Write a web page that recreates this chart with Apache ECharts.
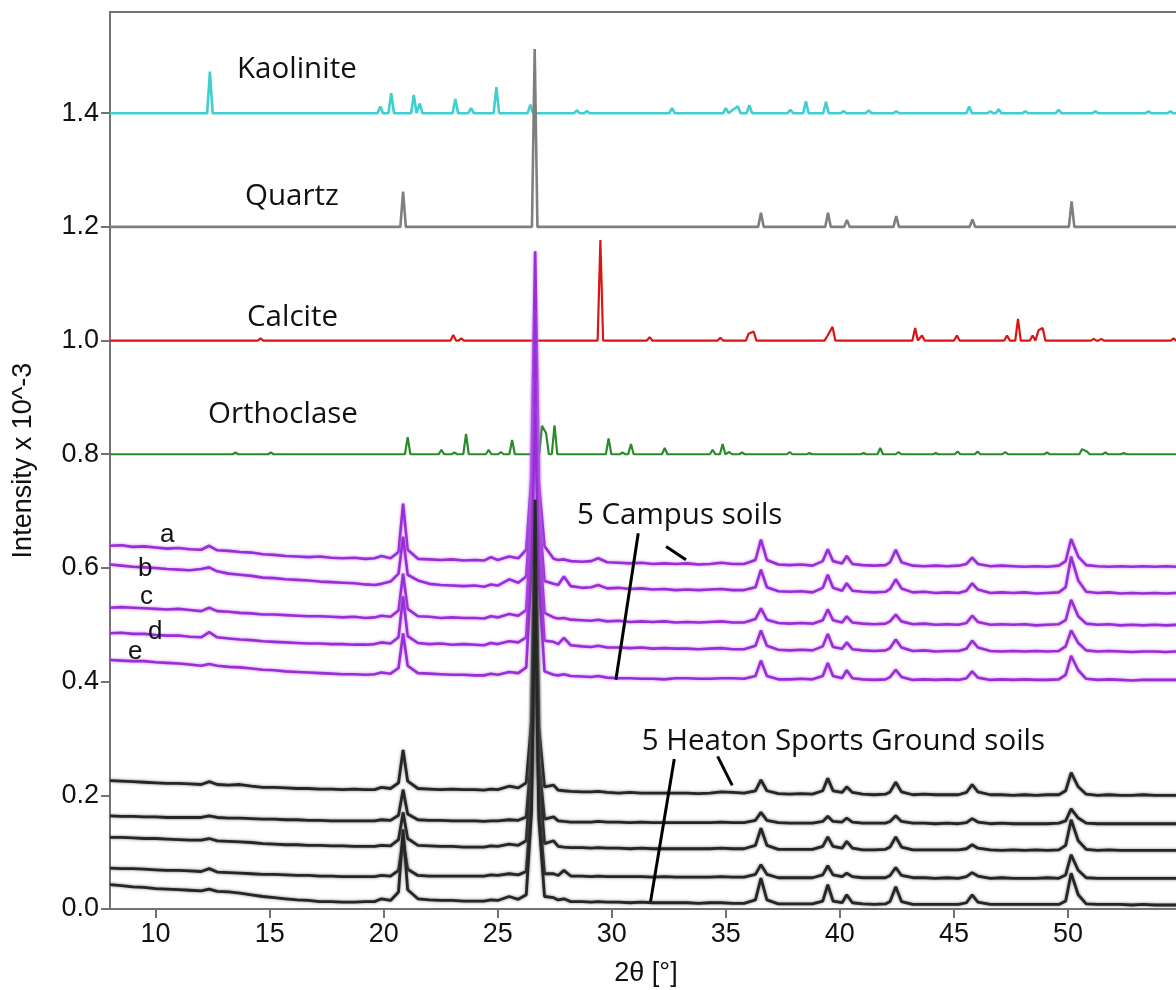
<!DOCTYPE html>
<html>
<head>
<meta charset="utf-8">
<script src="https://cdn.jsdelivr.net/npm/echarts@6/dist/echarts.min.js"></script>
<style>
  html, body { margin: 0; padding: 0; background: #ffffff; }
  #chart { width: 1176px; height: 990px; }
</style>
</head>
<body>
<div id="chart"></div>
<script>
// ---------- data ----------
const X_MIN = 8, X_MAX = 55, Y_MAX = 1.578;
const xTicks = [10, 15, 20, 25, 30, 35, 40, 45, 50];
const yTicks = [0, 0.2, 0.4, 0.6, 0.8, 1.0, 1.2, 1.4];

// 2θ sampling shared by the measured soil patterns
const twoTheta = [
  8.0, 8.5, 9.0, 9.5, 10.0, 10.5, 11.0, 11.5, 12.0, 12.35,
  12.7, 13.2, 13.7, 14.2, 14.7, 15.2, 15.7, 16.2, 16.7, 17.2,
  17.7, 18.2, 18.7, 19.2, 19.6, 19.9, 20.3, 20.65, 20.85, 21.05,
  21.5, 22.0, 22.5, 23.0, 23.5, 24.0, 24.4, 24.7, 25.0, 25.5,
  25.9, 26.25, 26.48, 26.64, 26.8, 27.05, 27.45, 27.65, 27.9, 28.2,
  28.7, 29.1, 29.4, 29.8, 30.3, 30.8, 31.3, 31.8, 32.3, 32.8,
  33.3, 33.8, 34.3, 34.8, 35.3, 35.8, 36.3, 36.54, 36.8, 37.3,
  37.8, 38.3, 38.8, 39.25, 39.47, 39.7, 40.1, 40.3, 40.55, 41.0,
  41.5, 42.0, 42.2, 42.45, 42.7, 43.2, 43.7, 44.2, 44.7, 45.2,
  45.55, 45.8, 46.05, 46.6, 47.1, 47.6, 48.1, 48.6, 49.1, 49.6,
  49.9, 50.14, 50.45, 50.8, 51.3, 51.8, 52.3, 52.8, 53.3, 53.8,
  54.3, 54.8, 55.0
];

// Campus soils a–e
const campusA = [
  0.639, 0.640, 0.637, 0.638, 0.636, 0.634, 0.635, 0.633, 0.632, 0.639,
  0.631, 0.630, 0.628, 0.627, 0.624, 0.623, 0.621, 0.620, 0.619, 0.620,
  0.618, 0.617, 0.618, 0.616, 0.617, 0.621, 0.617, 0.628, 0.713, 0.632,
  0.616, 0.615, 0.614, 0.615, 0.613, 0.614, 0.613, 0.619, 0.614, 0.620,
  0.617, 0.632, 0.760, 1.157, 0.750, 0.638, 0.616, 0.614, 0.615, 0.612,
  0.611, 0.612, 0.617, 0.610, 0.609, 0.608, 0.609, 0.607, 0.608, 0.607,
  0.608, 0.606, 0.607, 0.609, 0.607, 0.607, 0.614, 0.650, 0.614, 0.606,
  0.605, 0.606, 0.604, 0.612, 0.633, 0.612, 0.608, 0.621, 0.607, 0.605,
  0.604, 0.605, 0.610, 0.632, 0.610, 0.604, 0.603, 0.604, 0.603, 0.604,
  0.607, 0.618, 0.607, 0.603, 0.604, 0.603, 0.602, 0.603, 0.602, 0.604,
  0.612, 0.651, 0.620, 0.605, 0.603, 0.602, 0.603, 0.602, 0.603, 0.602,
  0.603, 0.602, 0.602
];
const campusB = [
  0.606, 0.604, 0.602, 0.601, 0.600, 0.598, 0.597, 0.596, 0.598, 0.601,
  0.594, 0.590, 0.588, 0.586, 0.583, 0.582, 0.580, 0.579, 0.578, 0.576,
  0.575, 0.574, 0.573, 0.571, 0.570, 0.572, 0.576, 0.590, 0.655, 0.588,
  0.578, 0.572, 0.570, 0.569, 0.568, 0.569, 0.567, 0.571, 0.569, 0.580,
  0.574, 0.585, 0.720, 1.050, 0.700, 0.577, 0.572, 0.570, 0.585, 0.568,
  0.565, 0.566, 0.570, 0.564, 0.565, 0.563, 0.564, 0.562, 0.563, 0.561,
  0.562, 0.561, 0.562, 0.563, 0.561, 0.561, 0.566, 0.597, 0.566, 0.559,
  0.558, 0.559, 0.557, 0.565, 0.588, 0.565, 0.560, 0.573, 0.560, 0.558,
  0.557, 0.558, 0.563, 0.580, 0.564, 0.557, 0.558, 0.556, 0.557, 0.556,
  0.560, 0.573, 0.562, 0.556, 0.557, 0.556, 0.557, 0.555, 0.556, 0.557,
  0.566, 0.620, 0.578, 0.558, 0.556, 0.557, 0.555, 0.556, 0.555, 0.556,
  0.555, 0.556, 0.556
];
const campusC = [
  0.530, 0.531, 0.530, 0.529, 0.528, 0.527, 0.528, 0.526, 0.524, 0.530,
  0.524, 0.523, 0.521, 0.520, 0.518, 0.518, 0.517, 0.516, 0.515, 0.515,
  0.514, 0.513, 0.514, 0.512, 0.513, 0.516, 0.514, 0.525, 0.590, 0.528,
  0.515, 0.514, 0.512, 0.513, 0.512, 0.512, 0.511, 0.515, 0.513, 0.519,
  0.516, 0.526, 0.680, 0.990, 0.660, 0.521, 0.513, 0.511, 0.512, 0.509,
  0.508, 0.507, 0.509, 0.506, 0.507, 0.505, 0.506, 0.505, 0.506, 0.504,
  0.505, 0.504, 0.505, 0.506, 0.504, 0.504, 0.510, 0.529, 0.509, 0.503,
  0.502, 0.503, 0.502, 0.508, 0.527, 0.508, 0.504, 0.515, 0.504, 0.502,
  0.501, 0.502, 0.506, 0.518, 0.506, 0.501, 0.502, 0.500, 0.501, 0.500,
  0.503, 0.516, 0.505, 0.500, 0.501, 0.500, 0.501, 0.499, 0.500, 0.501,
  0.508, 0.544, 0.515, 0.502, 0.500, 0.501, 0.499, 0.500, 0.499, 0.500,
  0.499, 0.500, 0.500
];
const campusD = [
  0.485, 0.486, 0.484, 0.484, 0.482, 0.481, 0.481, 0.479, 0.478, 0.487,
  0.478, 0.476, 0.474, 0.473, 0.471, 0.470, 0.469, 0.468, 0.467, 0.467,
  0.466, 0.466, 0.465, 0.465, 0.466, 0.469, 0.467, 0.478, 0.550, 0.480,
  0.468, 0.466, 0.467, 0.465, 0.466, 0.465, 0.464, 0.468, 0.466, 0.471,
  0.469, 0.478, 0.640, 0.930, 0.620, 0.472, 0.470, 0.466, 0.477, 0.464,
  0.462, 0.461, 0.463, 0.460, 0.460, 0.459, 0.460, 0.458, 0.459, 0.458,
  0.458, 0.457, 0.458, 0.459, 0.457, 0.457, 0.463, 0.490, 0.463, 0.456,
  0.455, 0.456, 0.455, 0.462, 0.484, 0.461, 0.458, 0.469, 0.457, 0.455,
  0.454, 0.455, 0.459, 0.474, 0.460, 0.454, 0.455, 0.453, 0.454, 0.454,
  0.458, 0.472, 0.460, 0.454, 0.453, 0.454, 0.453, 0.454, 0.453, 0.454,
  0.462, 0.490, 0.468, 0.455, 0.453, 0.454, 0.453, 0.452, 0.453, 0.453,
  0.452, 0.453, 0.453
];
const campusE = [
  0.438, 0.437, 0.436, 0.436, 0.434, 0.433, 0.432, 0.430, 0.428, 0.431,
  0.428, 0.426, 0.425, 0.423, 0.421, 0.420, 0.418, 0.417, 0.416, 0.415,
  0.414, 0.413, 0.413, 0.412, 0.413, 0.416, 0.414, 0.424, 0.485, 0.428,
  0.415, 0.414, 0.413, 0.412, 0.412, 0.411, 0.411, 0.414, 0.412, 0.417,
  0.415, 0.425, 0.600, 0.880, 0.580, 0.418, 0.412, 0.411, 0.413, 0.410,
  0.409, 0.408, 0.410, 0.407, 0.406, 0.406, 0.405, 0.405, 0.404, 0.406,
  0.406, 0.405, 0.405, 0.406, 0.406, 0.405, 0.410, 0.437, 0.410, 0.404,
  0.404, 0.405, 0.404, 0.410, 0.433, 0.410, 0.406, 0.420, 0.406, 0.404,
  0.403, 0.404, 0.408, 0.421, 0.408, 0.403, 0.404, 0.403, 0.404, 0.403,
  0.406, 0.418, 0.407, 0.403, 0.404, 0.403, 0.404, 0.403, 0.403, 0.404,
  0.412, 0.4455, 0.420, 0.405, 0.403, 0.404, 0.403, 0.402, 0.403, 0.403,
  0.403, 0.403, 0.403
];

// Heaton Sports Ground soils 1–5
const heaton1 = [
  0.226, 0.225, 0.224, 0.223, 0.222, 0.221, 0.221, 0.220, 0.219, 0.224,
  0.219, 0.218, 0.219, 0.216, 0.214, 0.214, 0.213, 0.212, 0.212, 0.211,
  0.211, 0.210, 0.211, 0.210, 0.210, 0.214, 0.212, 0.222, 0.280, 0.225,
  0.212, 0.211, 0.210, 0.211, 0.210, 0.210, 0.209, 0.211, 0.210, 0.216,
  0.213, 0.222, 0.330, 0.720, 0.320, 0.215, 0.218, 0.209, 0.208, 0.207,
  0.206, 0.206, 0.207, 0.205, 0.204, 0.205, 0.204, 0.204, 0.204, 0.204,
  0.204, 0.203, 0.204, 0.206, 0.205, 0.204, 0.208, 0.227, 0.208, 0.203,
  0.202, 0.203, 0.202, 0.208, 0.230, 0.208, 0.205, 0.215, 0.205, 0.202,
  0.201, 0.202, 0.206, 0.223, 0.206, 0.201, 0.202, 0.201, 0.201, 0.201,
  0.205, 0.219, 0.206, 0.201, 0.201, 0.200, 0.201, 0.200, 0.201, 0.201,
  0.208, 0.240, 0.215, 0.202, 0.200, 0.201, 0.200, 0.200, 0.201, 0.200,
  0.200, 0.200, 0.200
];
const heaton2 = [
  0.164, 0.163, 0.163, 0.162, 0.162, 0.161, 0.161, 0.161, 0.161, 0.164,
  0.161, 0.160, 0.160, 0.159, 0.158, 0.158, 0.157, 0.157, 0.156, 0.156,
  0.155, 0.155, 0.155, 0.155, 0.155, 0.157, 0.156, 0.165, 0.210, 0.167,
  0.157, 0.156, 0.156, 0.155, 0.155, 0.155, 0.154, 0.155, 0.155, 0.157,
  0.156, 0.162, 0.270, 0.620, 0.260, 0.158, 0.162, 0.155, 0.154, 0.153,
  0.153, 0.153, 0.154, 0.153, 0.153, 0.152, 0.153, 0.152, 0.152, 0.152,
  0.152, 0.152, 0.152, 0.153, 0.152, 0.152, 0.156, 0.170, 0.156, 0.152,
  0.151, 0.151, 0.151, 0.154, 0.163, 0.154, 0.153, 0.160, 0.153, 0.151,
  0.151, 0.151, 0.154, 0.164, 0.154, 0.151, 0.151, 0.150, 0.151, 0.150,
  0.152, 0.159, 0.153, 0.150, 0.151, 0.150, 0.150, 0.150, 0.150, 0.151,
  0.155, 0.176, 0.160, 0.151, 0.150, 0.150, 0.150, 0.150, 0.150, 0.150,
  0.150, 0.150, 0.150
];
const heaton3 = [
  0.126, 0.126, 0.125, 0.124, 0.124, 0.123, 0.122, 0.121, 0.121, 0.124,
  0.120, 0.119, 0.118, 0.117, 0.115, 0.114, 0.113, 0.113, 0.112, 0.112,
  0.111, 0.111, 0.110, 0.110, 0.110, 0.112, 0.111, 0.122, 0.170, 0.124,
  0.112, 0.111, 0.110, 0.110, 0.109, 0.109, 0.109, 0.111, 0.110, 0.114,
  0.112, 0.120, 0.250, 0.660, 0.240, 0.115, 0.120, 0.110, 0.109, 0.108,
  0.108, 0.107, 0.108, 0.107, 0.107, 0.106, 0.107, 0.106, 0.106, 0.106,
  0.106, 0.106, 0.106, 0.107, 0.106, 0.106, 0.112, 0.142, 0.112, 0.105,
  0.105, 0.105, 0.105, 0.110, 0.127, 0.110, 0.107, 0.119, 0.107, 0.104,
  0.104, 0.105, 0.109, 0.127, 0.109, 0.104, 0.104, 0.104, 0.104, 0.104,
  0.106, 0.113, 0.107, 0.104, 0.103, 0.104, 0.103, 0.104, 0.103, 0.104,
  0.112, 0.157, 0.120, 0.105, 0.103, 0.104, 0.103, 0.103, 0.103, 0.103,
  0.103, 0.103, 0.103
];
const heaton4 = [
  0.072, 0.071, 0.071, 0.070, 0.069, 0.068, 0.068, 0.067, 0.066, 0.071,
  0.065, 0.064, 0.063, 0.062, 0.061, 0.061, 0.060, 0.059, 0.059, 0.058,
  0.058, 0.057, 0.057, 0.057, 0.057, 0.059, 0.058, 0.068, 0.120, 0.070,
  0.059, 0.058, 0.058, 0.058, 0.058, 0.058, 0.058, 0.060, 0.059, 0.062,
  0.060, 0.066, 0.190, 0.550, 0.180, 0.062, 0.062, 0.059, 0.068, 0.058,
  0.058, 0.057, 0.058, 0.057, 0.057, 0.057, 0.057, 0.056, 0.057, 0.056,
  0.056, 0.056, 0.056, 0.057, 0.056, 0.056, 0.061, 0.078, 0.061, 0.055,
  0.055, 0.055, 0.055, 0.060, 0.076, 0.060, 0.057, 0.063, 0.057, 0.055,
  0.055, 0.055, 0.059, 0.073, 0.059, 0.055, 0.055, 0.054, 0.055, 0.054,
  0.057, 0.064, 0.058, 0.054, 0.055, 0.054, 0.054, 0.054, 0.055, 0.054,
  0.060, 0.0955, 0.068, 0.055, 0.054, 0.054, 0.054, 0.054, 0.054, 0.054,
  0.054, 0.054, 0.054
];
const heaton5 = [
  0.043, 0.041, 0.039, 0.038, 0.036, 0.035, 0.034, 0.033, 0.032, 0.035,
  0.031, 0.030, 0.028, 0.025, 0.022, 0.020, 0.018, 0.016, 0.015, 0.013,
  0.013, 0.012, 0.012, 0.013, 0.013, 0.018, 0.015, 0.030, 0.140, 0.034,
  0.018, 0.016, 0.015, 0.015, 0.014, 0.014, 0.014, 0.016, 0.015, 0.022,
  0.017, 0.025, 0.170, 0.600, 0.160, 0.022, 0.020, 0.016, 0.018, 0.013,
  0.013, 0.012, 0.013, 0.012, 0.012, 0.011, 0.012, 0.011, 0.011, 0.011,
  0.011, 0.010, 0.011, 0.011, 0.010, 0.010, 0.016, 0.0545, 0.016, 0.009,
  0.009, 0.009, 0.009, 0.014, 0.043, 0.014, 0.011, 0.025, 0.011, 0.009,
  0.008, 0.009, 0.013, 0.039, 0.013, 0.008, 0.008, 0.008, 0.008, 0.008,
  0.011, 0.025, 0.012, 0.008, 0.008, 0.008, 0.008, 0.008, 0.008, 0.008,
  0.014, 0.063, 0.025, 0.009, 0.008, 0.008, 0.008, 0.007, 0.008, 0.007,
  0.007, 0.007, 0.007
];

// Reference phases: offset baseline and [2θ, peak height above baseline]
const kaoliniteBase = 1.4;
const kaolinitePeaks = [
  [12.38, 0.073], [19.85, 0.012], [20.33, 0.035], [21.32, 0.032], [21.58, 0.017],
  [23.14, 0.025], [23.83, 0.009], [24.94, 0.046], [26.43, 0.015], [28.47, 0.005],
  [28.91, 0.004], [32.64, 0.009], [35.0, 0.009], [35.31, 0.006], [35.53, 0.012],
  [36.03, 0.014], [37.83, 0.006], [38.51, 0.021], [39.39, 0.020], [40.16, 0.004],
  [41.26, 0.005], [42.47, 0.003], [45.67, 0.012], [46.6, 0.003], [46.96, 0.007],
  [48.13, 0.003], [49.59, 0.006], [51.2, 0.003], [53.53, 0.003], [54.49, 0.003]
];
const quartzBase = 1.2;
const quartzPeaks = [
  [20.85, 0.062], [26.62, 0.313], [36.54, 0.025], [39.48, 0.025], [40.31, 0.012],
  [42.47, 0.019], [45.81, 0.013], [50.16, 0.045], [54.9, 0.010]
];
const calciteBase = 1.0;
const calcitePeaks = [
  [14.6, 0.004], [23.05, 0.010], [23.4, 0.004], [29.5, 0.177], [31.66, 0.006],
  [34.76, 0.005], [36.0, 0.012], [36.22, 0.016], [39.45, 0.008], [39.68, 0.024],
  [43.3, 0.022], [43.6, 0.009], [45.13, 0.009], [47.33, 0.009], [47.81, 0.038],
  [48.45, 0.009], [48.71, 0.018], [48.89, 0.022], [51.13, 0.003], [51.46, 0.003],
  [54.63, 0.004]
];
const orthoclaseBase = 0.8;
const orthoclasePeaks = [
  [13.5, 0.003], [15.05, 0.003], [21.05, 0.030], [22.53, 0.008], [23.1, 0.003],
  [23.61, 0.036], [24.6, 0.008], [25.14, 0.004], [25.63, 0.025], [26.94, 0.050],
  [27.12, 0.037], [27.49, 0.051], [29.86, 0.028], [30.47, 0.003], [30.84, 0.018],
  [32.32, 0.011], [34.42, 0.008], [34.86, 0.018], [35.15, 0.004], [35.71, 0.003],
  [37.8, 0.004], [38.67, 0.002], [41.04, 0.002], [41.77, 0.011], [42.57, 0.004],
  [44.2, 0.002], [45.16, 0.005], [46.04, 0.005], [47.25, 0.004], [49.08, 0.003],
  [50.62, 0.009], [50.83, 0.005], [51.64, 0.003], [52.44, 0.002]
];

// ---------- drawing ----------
const HALF_WIDTH = 0.12; // half base width of a reference peak, in degrees

// Stick pattern: baseline with a narrow peak at every listed reflection
function stickPattern(base, peaks) {
  const pts = [[X_MIN, base]];
  peaks.forEach(([p, h], i) => {
    const prev = peaks[i - 1], next = peaks[i + 1];
    if (!prev || p - prev[0] > 2 * HALF_WIDTH) pts.push([p - HALF_WIDTH, base]);
    pts.push([p, base + h]);
    if (!next || next[0] - p > 2 * HALF_WIDTH) pts.push([p + HALF_WIDTH, base]);
  });
  pts.push([X_MAX, base]);
  return pts;
}
const pairs = ys => twoTheta.map((x, i) => [x, ys[i]]);

const refSeries = (name, color, base, peaks, width) => ({
  name, type: 'line', data: stickPattern(base, peaks),
  symbol: 'none', smooth: false, silent: true, z: 2,
  lineStyle: { color, width }
});
const soilSeries = (name, ys, color, halo, width) => ({
  name, type: 'line', data: pairs(ys),
  symbol: 'none', smooth: false, silent: true, z: 3,
  lineStyle: { color, width, shadowColor: halo, shadowBlur: 3 }
});
const PURPLE = '#9a2ed6', PURPLE_HALO = 'rgba(190,110,235,0.9)';
const BLACK = '#262626', BLACK_HALO = 'rgba(90,90,90,0.8)';

// leader lines from the group captions, in data coordinates
const leaders = [
  [[31.16, 0.661], [30.18, 0.4034]],
  [[32.38, 0.6377], [33.25, 0.6143]],
  [[32.74, 0.2638], [31.70, 0.0134]],
  [[34.64, 0.2684], [35.28, 0.2174]]
];

const axisGray = '#737373';
const tickFont = { fontSize: 27, fontFamily: '"Liberation Sans", Arial, sans-serif', color: '#111111' };

const chart = echarts.init(document.getElementById('chart'), null, { renderer: 'canvas' });
chart.setOption({
  animation: false,
  backgroundColor: '#ffffff',
  grid: {
    left: 110, right: -6, top: 12, bottom: 81,
    outerBoundsMode: 'none', containLabel: false,
    show: true, borderColor: axisGray, borderWidth: 2
  },
  xAxis: {
    type: 'value', min: X_MIN, max: X_MAX,
    name: '2θ [°]', nameLocation: 'middle', nameGap: 51,
    nameTextStyle: tickFont,
    axisLine: { show: true, lineStyle: { color: axisGray, width: 2 } },
    axisTick: { show: true, length: 9, customValues: xTicks, lineStyle: { color: axisGray, width: 2 } },
    axisLabel: Object.assign({ customValues: xTicks, margin: 12 }, tickFont),
    splitLine: { show: false }
  },
  yAxis: {
    type: 'value', min: 0, max: Y_MAX,
    name: 'Intensity x 10^-3', nameLocation: 'middle', nameGap: 73, nameRotate: 90,
    nameTextStyle: tickFont,
    axisLine: { show: true, lineStyle: { color: axisGray, width: 2 } },
    axisTick: { show: true, length: 9, customValues: yTicks, lineStyle: { color: axisGray, width: 2 } },
    axisLabel: Object.assign({ customValues: yTicks, margin: 11, formatter: v => v.toFixed(1) }, tickFont),
    splitLine: { show: false }
  },
  series: [
    refSeries('Kaolinite', '#3fcfcf', kaoliniteBase, kaolinitePeaks, 2.6),
    refSeries('Quartz', '#7f7f7f', quartzBase, quartzPeaks, 2.6),
    refSeries('Calcite', '#de1414', calciteBase, calcitePeaks, 2.2),
    refSeries('Orthoclase', '#2b8a2b', orthoclaseBase, orthoclasePeaks, 2.2),
    soilSeries('a', campusA, PURPLE, PURPLE_HALO, 2.6),
    soilSeries('b', campusB, PURPLE, PURPLE_HALO, 2.6),
    soilSeries('c', campusC, PURPLE, PURPLE_HALO, 2.6),
    soilSeries('d', campusD, PURPLE, PURPLE_HALO, 2.6),
    soilSeries('e', campusE, PURPLE, PURPLE_HALO, 2.6),
    soilSeries('H1', heaton1, BLACK, BLACK_HALO, 2.8),
    soilSeries('H2', heaton2, BLACK, BLACK_HALO, 2.8),
    soilSeries('H3', heaton3, BLACK, BLACK_HALO, 2.8),
    soilSeries('H4', heaton4, BLACK, BLACK_HALO, 2.8),
    soilSeries('H5', heaton5, BLACK, BLACK_HALO, 2.8)
  ].concat(leaders.map(seg => ({
    type: 'line', data: seg, symbol: 'none', silent: true, z: 6,
    lineStyle: { color: '#000000', width: 3 }
  })))
});

// captions, anchored in data coordinates (left edge, vertical middle)
const notes = [
  { text: 'Kaolinite', at: [13.568, 1.4761], font: 'sans' },
  { text: 'Quartz', at: [13.918, 1.2528], font: 'sans' },
  { text: 'Calcite', at: [14.006, 1.0399], font: 'sans' },
  { text: 'Orthoclase', at: [12.296, 0.8693], font: 'sans' },
  { text: '5 Campus soils', at: [28.473, 0.6926], font: 'sans' },
  { text: '5 Heaton Sports Ground soils', at: [31.31, 0.2942], font: 'sans' },
  { text: 'a', at: [10.192, 0.6583], font: 'arial' },
  { text: 'b', at: [9.228, 0.5985], font: 'arial' },
  { text: 'c', at: [9.315, 0.5492], font: 'arial' },
  { text: 'd', at: [9.666, 0.4877], font: 'arial' },
  { text: 'e', at: [8.789, 0.4525], font: 'arial' }
];
chart.setOption({
  graphic: notes.map(n => {
    const p = chart.convertToPixel({ gridIndex: 0 }, n.at);
    return {
      type: 'text', x: p[0], y: p[1], z: 10, silent: true,
      style: {
        text: n.text, fill: '#111111', align: 'left', verticalAlign: 'middle',
        font: n.font === 'sans' ? '29.5px "Open Sans", sans-serif' : '26px "Liberation Sans", Arial, sans-serif'
      }
    };
  })
});
</script>
</body>
</html>
